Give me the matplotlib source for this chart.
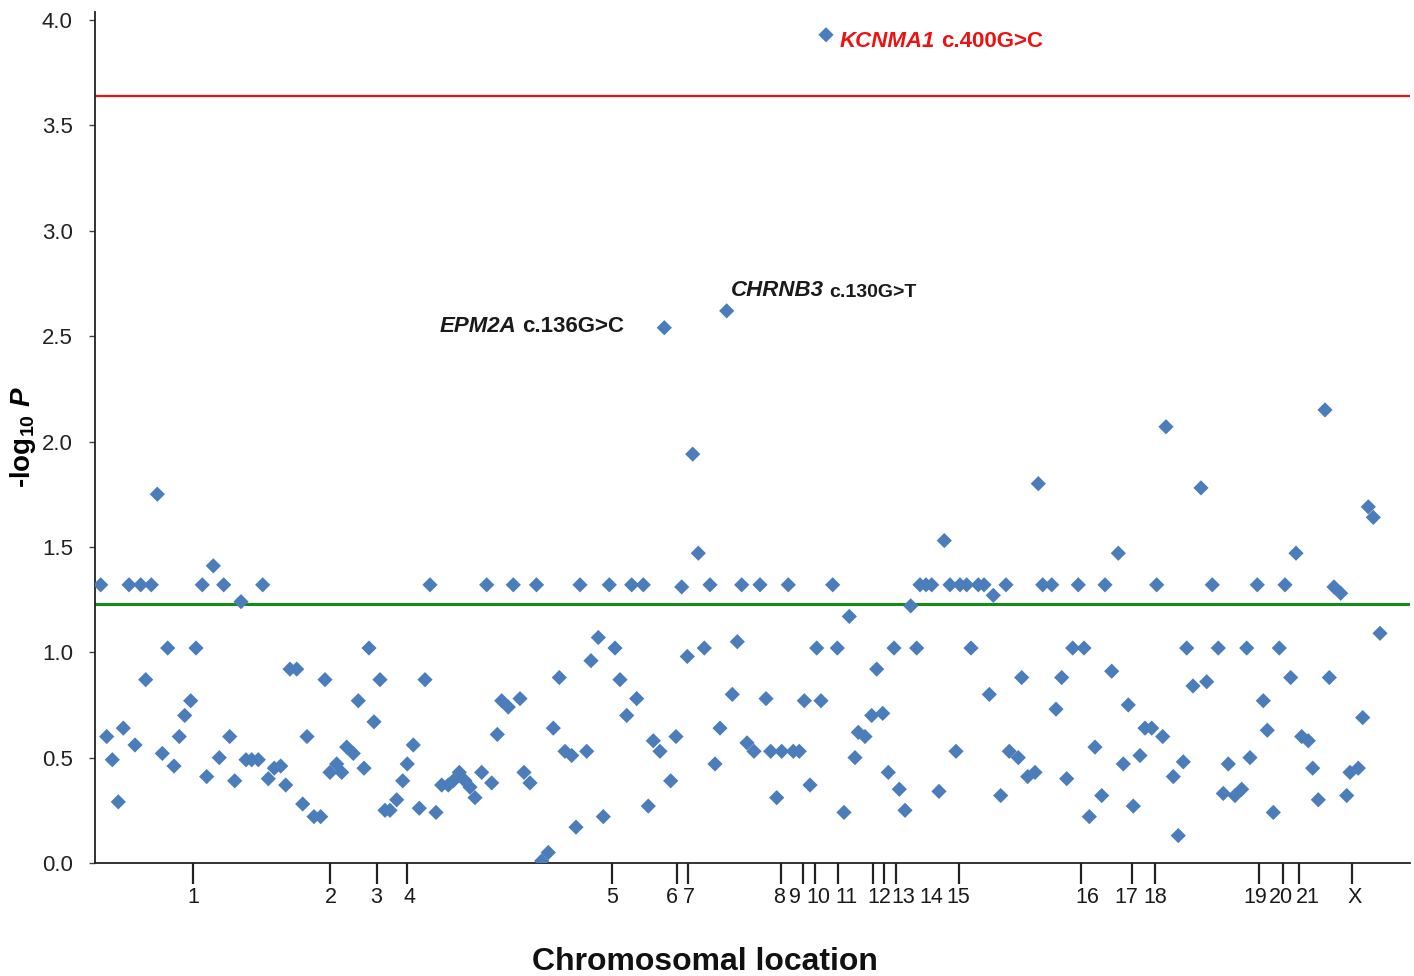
import matplotlib
matplotlib.use("Agg")
import matplotlib.pyplot as plt
from matplotlib.transforms import blended_transform_factory

plt.rcParams['font.family'] = ['Liberation Sans', 'DejaVu Sans']
plt.rcParams['mathtext.fontset'] = 'custom'
plt.rcParams['mathtext.rm'] = 'Liberation Sans:bold'
plt.rcParams['mathtext.it'] = 'Liberation Sans:bold:italic'
plt.rcParams['mathtext.bf'] = 'Liberation Sans:bold'

# --- data: position along genome (arbitrary units) and -log10 P ---
position = [
    5.7, 11.7, 17.3, 23.3, 28.3, 34, 40, 45.7, 50.7, 56.3, 62.3, 67.3, 72.7, 79, 84.3, 89.7,
    95.7, 101, 107.3, 111.7, 118.3, 124.3, 128.7, 134.7, 139.7, 146, 151, 156.7, 163.3, 167.7,
    173.3, 179.3, 185.7, 190.7, 195, 201.7, 207.7, 212, 219, 225.7,
    230, 235, 241.7, 246.7, 251.7, 258.3, 263.3, 269, 274, 279, 285, 290, 295, 301.7, 307.7,
    312.3, 318.3, 324.3, 330, 335, 341, 346.7, 353.3, 358.3, 364.3, 370, 375, 380, 386.7, 391.7,
    396.7, 402.3, 406.7, 413.3, 418.3, 425, 429, 435, 441.5,
    446.7, 453.3, 458.3, 464.3, 470, 476.7, 481, 485, 491.7, 496, 503.3, 508.3, 514.3, 520, 525,
    531.7, 536.7, 541.7, 548.3, 553.3, 558.3, 565, 569.3, 575.7, 581, 586.7, 592.3, 597.7, 603.3,
    609.3, 615, 620, 625, 631.7, 637.3, 642.3, 646.7, 652,
    659, 665, 671, 675.7, 681.7, 686.7, 693.3, 698.3, 704.3, 709.3, 715, 721.7, 726, 731, 737.7,
    742.3, 749, 754.3, 760, 763.3, 770, 776.7, 781.7, 787.7, 793.3, 799, 804.3, 810, 815.7, 821.7,
    825, 831, 836.7, 844, 849.3, 855, 861, 865, 871.7, 876, 883.3, 889,
    894.3, 898.3, 905.7, 911, 914.3, 923.3, 926.7, 932.7, 940, 943.3, 947.7, 956.7, 961, 966.7,
    971.7, 977.7, 983.3, 989, 994.3, 1000, 1006.7, 1010, 1016.7, 1023.3, 1028.3, 1033.3, 1038.3,
    1045, 1050, 1056.7, 1061.7, 1067.7, 1071, 1078.3, 1083.3, 1088.3, 1091.7,
    1098, 1106, 1111.7, 1117.3, 1123.3, 1128.3, 1133.3, 1140, 1146.7, 1151.7, 1155, 1162.3,
    1168.3, 1172.3, 1178.3, 1184.3, 1190, 1195.7, 1201, 1206.7, 1213.3, 1217.7, 1223.3, 1230,
    1234.3, 1239, 1245.7, 1251.7, 1255, 1263.3, 1267.7, 1273.3, 1278.3, 1285,
]
neglogp = [
    1.32, 0.60, 0.49, 0.29, 0.64, 1.32, 0.56, 1.32, 0.87, 1.32, 1.75, 0.52, 1.02, 0.46, 0.60, 0.70,
    0.77, 1.02, 1.32, 0.41, 1.41, 0.50, 1.32, 0.60, 0.39, 1.24, 0.49, 0.49, 0.49, 1.32,
    0.40, 0.45, 0.46, 0.37, 0.92, 0.92, 0.28, 0.60, 0.22, 0.22,
    0.87, 0.43, 0.47, 0.43, 0.55, 0.52, 0.77, 0.45, 1.02, 0.67, 0.87, 0.25, 0.25, 0.30, 0.39,
    0.47, 0.56, 0.26, 0.87, 1.32, 0.24, 0.37, 0.37, 0.39, 0.43, 0.39, 0.36, 0.31, 0.43, 1.32,
    0.38, 0.61, 0.77, 0.74, 1.32, 0.78, 0.43, 0.38, 1.32,
    0.01, 0.05, 0.64, 0.88, 0.53, 0.51, 0.17, 1.32, 0.53, 0.96, 1.07, 0.22, 1.32, 1.02, 0.87,
    0.70, 1.32, 0.78, 1.32, 0.27, 0.58, 0.53, 2.54, 0.39, 0.60, 1.31, 0.98, 1.94, 1.47,
    1.02, 1.32, 0.47, 0.64, 2.62, 0.80, 1.05, 1.32, 0.57,
    0.53, 1.32, 0.78, 0.53, 0.31, 0.53, 1.32, 0.53, 0.53, 0.77, 0.37, 1.02, 0.77, 3.93, 1.32,
    1.02, 0.24, 1.17, 0.50, 0.62, 0.60, 0.70, 0.92, 0.71, 0.43, 1.02, 0.35, 0.25, 1.22, 1.02,
    1.32, 1.32, 1.32, 0.34, 1.53, 1.32, 0.53, 1.32, 1.32, 1.02, 1.32, 1.32,
    0.80, 1.27, 0.32, 1.32, 0.53, 0.50, 0.88, 0.41, 0.43, 1.80, 1.32, 1.32, 0.73, 0.88,
    0.40, 1.02, 1.32, 1.02, 0.22, 0.55, 0.32, 1.32, 0.91, 1.47, 0.47, 0.75, 0.27,
    0.51, 0.64, 0.64, 1.32, 0.60, 2.07, 0.41, 0.13, 0.48, 1.02,
    0.84, 1.78, 0.86, 1.32, 1.02, 0.33, 0.47, 0.32, 0.35, 1.02, 0.50, 1.32,
    0.77, 0.63, 0.24, 1.02, 1.32, 0.88, 1.47, 0.60, 0.58, 0.45, 0.30, 2.15,
    0.88, 1.31, 1.28, 0.32, 0.43, 0.45, 0.69, 1.69, 1.64, 1.09,
]

# chromosome boundary tick marks and label positions
chrom_tick_pos = [98, 235, 282, 312, 517, 582, 593, 686, 708, 720, 743, 778, 789, 801,
                  864, 986, 1037, 1060, 1164, 1188, 1204, 1257]
chrom_labels = ['1', '2', '3', '4', '5', '6', '7', '8', '9', '10', '11', '12', '13', '14',
                '15', '16', '17', '18', '19', '20', '21', 'X']
chrom_label_pos = [98, 236, 281, 315, 517, 577, 594, 684, 700, 723, 751, 784, 808, 836,
                   863, 992, 1031, 1060, 1160, 1186, 1213, 1260]

sig_bonferroni = 3.64
sig_nominal = 1.23

# highlighted variants: (gene, change, position, value, color, change fontsize)
annotations = [
    ('KCNMA1', 'c.400G>C', 745, 3.90, '#EE1111', 16),
    ('EPM2A', 'c.136G>C', 345, 2.545, '#1a1a1a', 16),
    ('CHRNB3', 'c.130G>T', 636, 2.715, '#1a1a1a', 14),
]

fig = plt.figure(figsize=(14.14, 9.76), dpi=100)
ax = fig.add_axes([95 / 1414, 1 - 863 / 976, 1315 / 1414, (863 - 11.6) / 976])

ax.axhline(sig_bonferroni, color='#EE1111', lw=1.6, zorder=1)
ax.axhline(sig_nominal, color='#178A17', lw=2.2, zorder=1)
ax.scatter(position, neglogp, marker='D', s=60, color='#4A7DBA', edgecolors='none', zorder=3)

ax.set_xlim(0, 1315)
ax.set_ylim(0, 4.04)
for s in ['top', 'right']:
    ax.spines[s].set_visible(False)
for s in ['left', 'bottom']:
    ax.spines[s].set_linewidth(1.3)
    ax.spines[s].set_color('#222222')

ax.set_yticks([0, 0.5, 1.0, 1.5, 2.0, 2.5, 3.0, 3.5, 4.0])
ax.set_yticklabels(['0.0', '0.5', '1.0', '1.5', '2.0', '2.5', '3.0', '3.5', '4.0'])
ax.tick_params(axis='y', direction='out', length=4, width=1, pad=12,
               labelsize=16, labelcolor='#222222', color='#444444')

ax.set_xticks(chrom_tick_pos)
ax.set_xticklabels([''] * len(chrom_tick_pos))
ax.tick_params(axis='x', direction='out', length=15, width=1.6, color='#222222')

trans = blended_transform_factory(ax.transData, ax.transAxes)
for lab, p in zip(chrom_labels, chrom_label_pos):
    ax.annotate(lab, xy=(p, 0), xycoords=trans, xytext=(0, -25), textcoords='offset points',
                ha='center', va='center', fontsize=15.5, color='#1a1a1a')

ax.set_ylabel(r'-log$_{10}$ $P$', fontsize=20, fontweight='bold')
ax.yaxis.set_label_coords(-0.0435, 0.5)
fig.text(705 / 1414, 1 - 962 / 976, 'Chromosomal location', fontsize=23,
         fontweight='bold', ha='center', va='center', color='#111111')

for gene, change, p, v, col, fs in annotations:
    t1 = ax.text(p, v, gene, fontsize=16, fontweight='bold', fontstyle='italic',
                 color=col, ha='left', va='center')
    ax.annotate(change, xy=(1, 0), xycoords=t1, xytext=(4, 0), textcoords='offset points',
                fontsize=fs, fontweight='bold', color=col, ha='left', va='bottom')

fig.savefig('out.png', dpi=100)
